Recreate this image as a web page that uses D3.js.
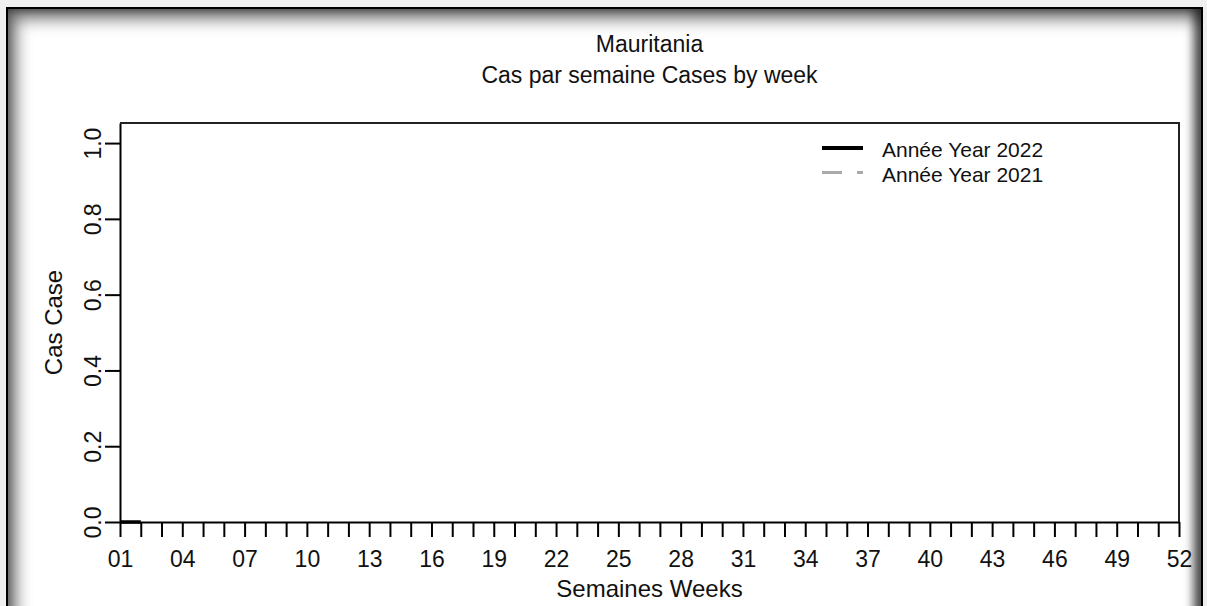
<!DOCTYPE html>
<html>
<head>
<meta charset="utf-8">
<script src="https://cdn.jsdelivr.net/npm/d3@7"></script>
<style>
  body { margin: 0; background: #f0f0f0; width: 1207px; height: 606px; overflow: hidden; position: relative; }
  #frame {
    position: absolute; left: 6px; top: 7px; width: 1193px; height: 620px;
    border: 2px solid #000; background: #fff;
    box-shadow: inset -8px 0 10px rgba(0,0,0,0.6), inset 8px 10px 16px rgba(0,0,0,0.55), inset 0 -8px 12px rgba(0,0,0,0.35);
  }
  #chart { position: absolute; left: 0; top: 0; }
  text { font-family: "Liberation Sans", Arial, sans-serif; fill: #111; }
</style>
</head>
<body>
<div id="frame"></div>
<div id="chart"></div>
<script>
// Chart data
var weeks = [1, 2, 3, 4, 5, 6, 7, 8, 9, 10, 11, 12, 13, 14, 15, 16, 17, 18, 19, 20, 21, 22, 23, 24, 25, 26,
             27, 28, 29, 30, 31, 32, 33, 34, 35, 36, 37, 38, 39, 40, 41, 42, 43, 44, 45, 46, 47, 48, 49, 50, 51, 52];
var weekLabels = ["01", "04", "07", "10", "13", "16", "19", "22", "25", "28", "31", "34", "37", "40", "43", "46", "49", "52"];
var yTicks = [0, 0.2, 0.4, 0.6, 0.8, 1.0];
var weeks2022 = [1, 2];
var cases2022 = [0, 0];
var weeks2021 = [];
var cases2021 = [];
var legendLabels = ["Année Year 2022", "Année Year 2021"];

// Plot region
var margin = {top: 123, right: 28, bottom: 84, left: 120},
    W = 1207, H = 606,
    width = W - margin.left - margin.right,
    height = H - margin.top - margin.bottom;

var svg = d3.select("#chart").append("svg")
    .attr("width", W)
    .attr("height", H);

var g = svg.append("g")
    .attr("transform", "translate(" + margin.left + "," + margin.top + ")");

var x = d3.scaleLinear().domain([1, 52]).range([0, width]);
var y = d3.scaleLinear().domain([0, 1.053]).range([height, 0]);

// x axis: a tick each week, labels every third week
var xAxis = d3.axisBottom(x)
    .tickValues(weeks)
    .tickSize(15)
    .tickSizeOuter(0)
    .tickPadding(14)
    .tickFormat(function(d) {
        var s = (d < 10 ? "0" : "") + d;
        return weekLabels.indexOf(s) >= 0 ? s : "";
    });

var gx = g.append("g")
    .attr("transform", "translate(0," + height + ")")
    .call(xAxis);
gx.selectAll("text").style("font-size", "23px").attr("fill", "#111");

// y axis with labels turned like R's las=0
var yAxis = d3.axisLeft(y)
    .tickValues(yTicks)
    .tickSize(15)
    .tickSizeOuter(0)
    .tickFormat(d3.format(".1f"));

var gy = g.append("g").call(yAxis);
gy.selectAll("text")
    .attr("x", 0).attr("dy", null)
    .attr("text-anchor", "middle")
    .attr("transform", "translate(-19,0) rotate(-90)")
    .style("font-size", "23px")
    .attr("fill", "#111");

svg.selectAll(".domain, .tick line").attr("stroke", "#000").attr("stroke-width", 2);

// box top and right
g.append("path")
    .attr("d", "M0,0H" + width + "V" + height)
    .attr("fill", "none")
    .attr("stroke", "#222")
    .attr("stroke-width", 2);

// series lines
var line = d3.line()
    .x(function(d) { return x(d[0]); })
    .y(function(d) { return y(d[1]); });

g.append("path")
    .datum(weeks2021.map(function(w, i) { return [w, cases2021[i]]; }))
    .attr("d", line)
    .attr("fill", "none")
    .attr("stroke", "#aaaaaa")
    .attr("stroke-width", 3)
    .attr("stroke-dasharray", "20,15");

g.append("path")
    .datum(weeks2022.map(function(w, i) { return [w, cases2022[i]]; }))
    .attr("d", line)
    .attr("fill", "none")
    .attr("stroke", "#000")
    .attr("stroke-width", 3.5);

// titles
svg.append("text")
    .attr("x", margin.left + width / 2).attr("y", 52)
    .attr("text-anchor", "middle").style("font-size", "23px")
    .text("Mauritania");
svg.append("text")
    .attr("x", margin.left + width / 2).attr("y", 83)
    .attr("text-anchor", "middle").style("font-size", "23px")
    .text("Cas par semaine Cases by week");
svg.append("text")
    .attr("x", margin.left + width / 2).attr("y", 597)
    .attr("text-anchor", "middle").style("font-size", "24px")
    .text("Semaines Weeks");
svg.append("text")
    .attr("transform", "translate(62," + (margin.top + height / 2) + ") rotate(-90)")
    .attr("text-anchor", "middle").style("font-size", "24px")
    .text("Cas Case");

// legend
var legend = svg.append("g").attr("transform", "translate(822,148)");
var legendStyles = [
    {stroke: "#000", width: 4, dash: null},
    {stroke: "#aaaaaa", width: 3, dash: "20,15"}
];
legendLabels.forEach(function(label, i) {
    legend.append("line")
        .attr("x1", 0).attr("x2", 41)
        .attr("y1", i * 24.5).attr("y2", i * 24.5)
        .attr("stroke", legendStyles[i].stroke)
        .attr("stroke-width", legendStyles[i].width)
        .attr("stroke-dasharray", legendStyles[i].dash);
    legend.append("text")
        .attr("x", 60).attr("y", i * 24.5 + 9)
        .style("font-size", "21px")
        .text(label);
});
</script>
</body>
</html>
